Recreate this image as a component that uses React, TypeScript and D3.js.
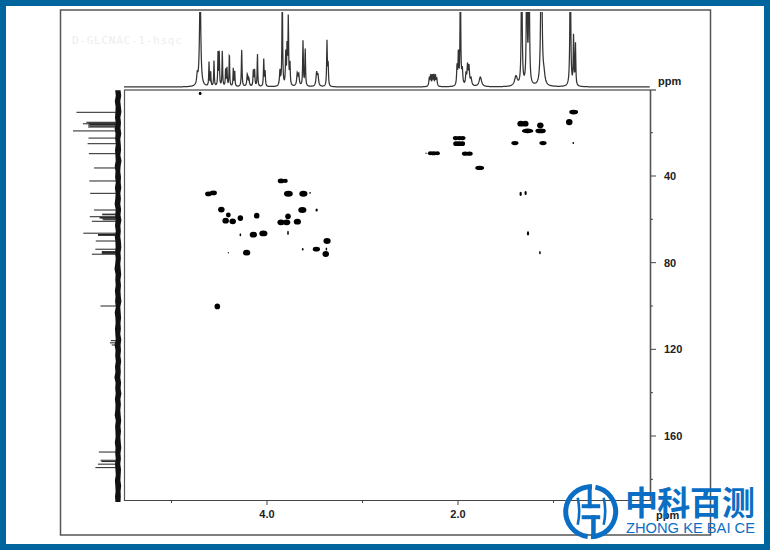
import React from "react";
import * as d3 from "d3";

// 1H projection: peak positions (ppm) and heights (1 = top of strip)
const protonPpm = [4.73,4.70,4.607,4.59,4.555,4.513,4.50,4.468,4.433,4.419,4.394,4.353,4.338,4.265,4.206,4.19,4.143,4.13,4.10,4.034,4.02,3.864,3.84,3.804,3.79,3.777,3.76,3.683,3.668,3.623,3.60,3.48,3.466,3.372,3.36,2.30,2.286,2.269,2.254,2.237,2.223,2.01,1.996,1.975,1.955,1.916,1.90,1.885,1.864,1.766,1.393,1.333,1.28,1.256,1.127,1.10,0.824,0.79,0.77];
const protonHeight = [0.13,1.3,0.32,0.2,0.34,0.44,0.44,0.48,0.24,0.24,0.46,0.24,0.2,0.5,0.16,0.1,0.22,0.22,0.44,0.36,0.2,0.2,1.3,0.42,0.5,0.9,0.3,0.16,0.15,0.6,0.5,0.18,0.13,0.6,0.3,0.11,0.14,0.14,0.14,0.14,0.1,0.26,0.44,1.6,0.2,0.15,0.26,0.24,0.1,0.13,0.13,1.9,1.9,1.9,2.4,0.12,1.8,0.66,0.56];
const protonWidth = [0.007,0.008,0.0035,0.0035,0.0035,0.0035,0.0035,0.0035,0.0035,0.0035,0.0035,0.0035,0.0035,0.004,0.006,0.006,0.004,0.004,0.0035,0.004,0.004,0.006,0.004,0.004,0.004,0.004,0.004,0.007,0.007,0.004,0.004,0.008,0.007,0.004,0.004,0.006,0.005,0.005,0.005,0.005,0.006,0.005,0.004,0.004,0.006,0.006,0.006,0.006,0.009,0.015,0.017,0.005,0.005,0.005,0.007,0.012,0.005,0.004,0.004];

// 13C projection: peak positions (ppm) and intensities
const carbonPpm = [10.6,15.2,15.6,15.9,16.2,16.5,17.0,17.4,19.2,22.5,25.1,29.7,36.3,42.3,48,55.7,57.6,57.9,58.8,59.2,59.4,59.8,60.2,60.9,66.4,67,67.4,70,73.8,74.9,75.3,75.7,76.1,100,116,117,118,167.4,171.2,171.8,173,174.6];
const carbonHeight = [92,69,64,77,62,65,62,65,100,64,66,63,51,62,60,51,32,32,61,38,38,32,30,56,76,42,42,47,48,33,33,33,56,36,12,14,10,40,36,34,42,48];

// 13C noise floor half widths, read along the strip every 2.5 ppm
const noiseLeft = [2.8,2.2,3.2,2.4,2.6,3.0,2.3,3.4,2.5,2.8,2.2,3.0,2.6,2.3,3.3,2.5,2.9,2.2,3.1,2.4,2.7,3.4,2.3,2.8,2.5,3.0,2.2,3.2,2.6,2.4,3.0,2.3,2.8,3.5,2.4,2.7,2.3,3.1,2.5,2.9,2.2,3.3,2.6,2.4,3.0,2.7,2.3,3.4,2.5,2.8,2.2,3.0,2.6,3.6,2.4,2.8,2.3,3.1,2.5,2.7,3.3,2.2,2.9,2.6,2.4,3.2,2.5,2.8,2.3,3.0,2.6,2.2,3.1,2.7,2.4,3.0,2.6];
const noiseRight = [2.6,3.2,2.3,2.9,3.4,2.4,3.0,2.5,3.3,2.3,2.8,3.1,2.4,3.5,2.6,2.3,3.0,2.7,3.3,2.4,2.9,2.3,3.1,2.5,3.4,2.4,2.8,2.3,3.0,3.3,2.5,2.9,2.3,2.7,3.2,2.4,3.0,2.5,2.8,3.4,2.3,2.7,3.1,2.5,2.9,2.3,3.3,2.6,3.0,2.4,3.2,2.5,2.8,2.3,3.1,2.6,3.4,2.4,2.9,2.3,2.7,3.2,2.5,3.0,2.4,2.8,3.3,2.5,2.9,2.3,3.0,2.7,2.4,3.2,2.6,2.8,2.5];

// HSQC cross peaks
const crossH = [4.70,4.614,4.562,4.478,4.405,4.433,4.359,4.279,4.108,4.279,4.143,4.038,3.853,3.808,3.776,3.619,3.549,3.63,3.48,3.78,3.853,3.794,3.682,3.78,3.371,3.378,3.626,3.483,3.385,4.405,4.213,4.52,0.789,0.835,1.341,1.295,1.138,1.271,1.135,1.404,1.11,0.793,2.025,1.986,1.951,2.021,1.99,1.955,1.925,1.88,2.29,2.255,2.215,2.335,1.773,1.344,1.292,1.267,1.142];
const crossC = [1.9,48.3,47.8,55.5,58,60.6,60.9,59.4,58.3,67.1,67.1,66.5,42.3,42.3,48.2,48.2,47.8,55.7,55.7,58.6,61.4,61.4,61.1,66.3,70,73.7,73.8,73.8,76,75.4,75.4,100.2,10.5,15.1,15.85,15.85,16.6,19.2,19.2,24.8,24.8,24.8,22.5,22.5,22.5,25.1,25.1,25.1,29.7,29.7,29.5,29.5,29.5,29.5,36.3,48.3,47.9,66.5,75.4];
const crossWH = [0.012,0.028,0.031,0.028,0.021,0.028,0.028,0.024,0.024,0.007,0.031,0.035,0.028,0.021,0.038,0.035,0.007,0.035,0.01,0.024,0.031,0.031,0.031,0.007,0.031,0.007,0.007,0.031,0.028,0.005,0.031,0.024,0.038,0.028,0.031,0.028,0.028,0.049,0.045,0.031,0.031,0.007,0.024,0.024,0.024,0.024,0.028,0.024,0.028,0.028,0.021,0.028,0.021,0.005,0.038,0.01,0.01,0.01,0.007];
const crossWC = [0.6,0.9,0.9,1.1,0.9,1.1,1.1,1.1,1.1,0.6,1.1,1.1,0.9,0.8,1.1,1.1,0.3,1.1,0.6,1.1,1.1,1.1,1.1,0.8,1.1,0.6,0.5,0.9,1.1,0.3,1.1,1.1,0.9,1.2,1.1,1.1,1.1,0.9,0.9,0.8,0.8,0.4,0.8,0.8,0.8,0.9,0.9,0.9,0.8,0.8,0.8,0.8,0.8,0.25,0.8,0.8,0.8,0.8,0.6];

const xMajor = [4, 2];
const xMinor = [5, 3, 1];
const yMajor = [40, 80, 120, 160];
const yMinor = [20, 60, 100, 140, 180];

const x = d3.scaleLinear().domain([4, 2]).range([267, 458]);
const y = d3.scaleLinear().domain([40, 160]).range([176, 436]);
const stripY = d3.scaleLinear().domain([0, 1]).range([87, 12]);
const stripX = d3.scaleLinear().domain([0, 100]).range([116, 73]);

const samples = d3.range(124, 650, 0.25);
const spectrum: [number, number][] = samples.map((px) => {
  const ppm = x.invert(px);
  let s = 0;
  protonPpm.forEach((p, i) => {
    const d = (ppm - p) / protonWidth[i];
    s += protonHeight[i] / (1 + d * d);
  });
  return [px, stripY(s)];
});
const spectrumPath = d3.line()(spectrum) ?? "";

const noiseStep = 2.5;
const noiseArea = d3
  .area<number>()
  .y((_, i) => y(i * noiseStep) + 1)
  .x0((v) => 118 - v)
  .x1((_, i) => 118 + noiseRight[i]);

const CROSS_SCALE = 1.22;
const FONT = "'Liberation Sans', Arial, sans-serif";
const BLUE = "#00659c";
const LOGO = "#0a6fc4";

const ring = d3.arc<{ a: number; b: number }>()
  .innerRadius(22.5)
  .outerRadius(27.5)
  .startAngle((d) => d.a)
  .endAngle((d) => d.b);

export default function App() {
  return (
    <svg
      width={770}
      height={550}
      viewBox="0 0 770 550"
      style={{ position: "absolute", left: 0, top: 0 }}
      fontFamily={FONT}
    >
      <rect width={770} height={550} fill={BLUE} />
      <rect x={6} y={6} width={758} height={538} fill="#fff" />
      <rect x={60.5} y={10} width={650} height={525} fill="none" stroke="#555" strokeWidth={1.5} />

      <text x={72} y={44} fontSize={11} letterSpacing={0.75} fill="#eeeeee" fontFamily="'DejaVu Sans Mono', monospace">D-GLCNAC-1-hsqc</text>

      <clipPath id="strip"><rect x={124} y={12} width={530} height={78} /></clipPath>
      <path d={spectrumPath} fill="none" stroke="#333" strokeWidth={1.25} clipPath="url(#strip)" />

      <path d={noiseArea(noiseLeft) ?? ""} fill="#111" />
      <g stroke="#222" strokeWidth={1}>
        {carbonPpm.map((c, i) => (
          <line key={i} x1={116} x2={stripX(carbonHeight[i])} y1={y(c)} y2={y(c)} />
        ))}
      </g>

      <line x1={124} x2={656} y1={90} y2={90} stroke="#222" strokeWidth={1.2} />
      <line x1={124.5} x2={124.5} y1={90} y2={501} stroke="#555" strokeWidth={1.2} />
      <line x1={124} x2={650} y1={500.5} y2={500.5} stroke="#444" strokeWidth={1.2} />
      <line x1={650.5} x2={650.5} y1={90} y2={501} stroke="#555" strokeWidth={1.6} />

      <g stroke="#444" strokeWidth={1}>
        {yMajor.map((t) => <line key={t} x1={651} x2={656} y1={y(t)} y2={y(t)} />)}
        {yMinor.map((t) => <line key={t} x1={651} x2={653} y1={y(t)} y2={y(t)} />)}
        {xMajor.map((t) => <line key={t} x1={x(t)} x2={x(t)} y1={501} y2={505} />)}
        {xMinor.map((t) => <line key={t} x1={x(t)} x2={x(t)} y1={501} y2={503} />)}
      </g>
      <g fontSize={11} fontWeight={700} fill="#222">
        {yMajor.map((t) => <text key={t} x={664} y={y(t) + 4}>{t}</text>)}
        {xMajor.map((t) => <text key={t} x={x(t)} y={518} textAnchor="middle">{t.toFixed(1)}</text>)}
        <text x={658} y={85}>ppm</text>
        <text x={656} y={519}>ppm</text>
      </g>

      <g fill="#000">
        {crossH.map((h, i) => (
          <ellipse
            key={i}
            cx={x(h)}
            cy={y(crossC[i])}
            rx={CROSS_SCALE * Math.abs(x(crossWH[i]) - x(0))}
            ry={CROSS_SCALE * Math.abs(y(crossWC[i]) - y(0))}
          />
        ))}
      </g>

      <g transform="translate(590.7,511.7)" fill={LOGO}>
        <path d={ring({ a: 0.19, b: Math.PI - 0.01 }) ?? ""} />
        <path d={ring({ a: Math.PI + 0.12, b: 2 * Math.PI + 0.05 }) ?? ""} />
        <rect x={-3} y={-27} width={4} height={23.5} />
        <rect x={-9} y={-7.5} width={18.5} height={4} />
        <rect x={-9} y={3.5} width={18.5} height={4} />
        <rect x={0.5} y={3.5} width={4.5} height={23.5} />
        <path d="M-13 -14 Q-10 0 -13 13" fill="none" stroke={LOGO} strokeWidth={2.6} />
        <path d="M13 -14 Q16 0 13 13" fill="none" stroke={LOGO} strokeWidth={2.6} />
      </g>
      <text x={625} y={515} fontSize={33} fontWeight={700} fill={LOGO} fontFamily="'Noto Sans CJK SC'" textLength={130} lengthAdjust="spacing">中科百测</text>
      <text x={626} y={533} fontSize={15.5} fill={LOGO} textLength={129} lengthAdjust="spacingAndGlyphs">ZHONG KE BAI CE</text>
    </svg>
  );
}
